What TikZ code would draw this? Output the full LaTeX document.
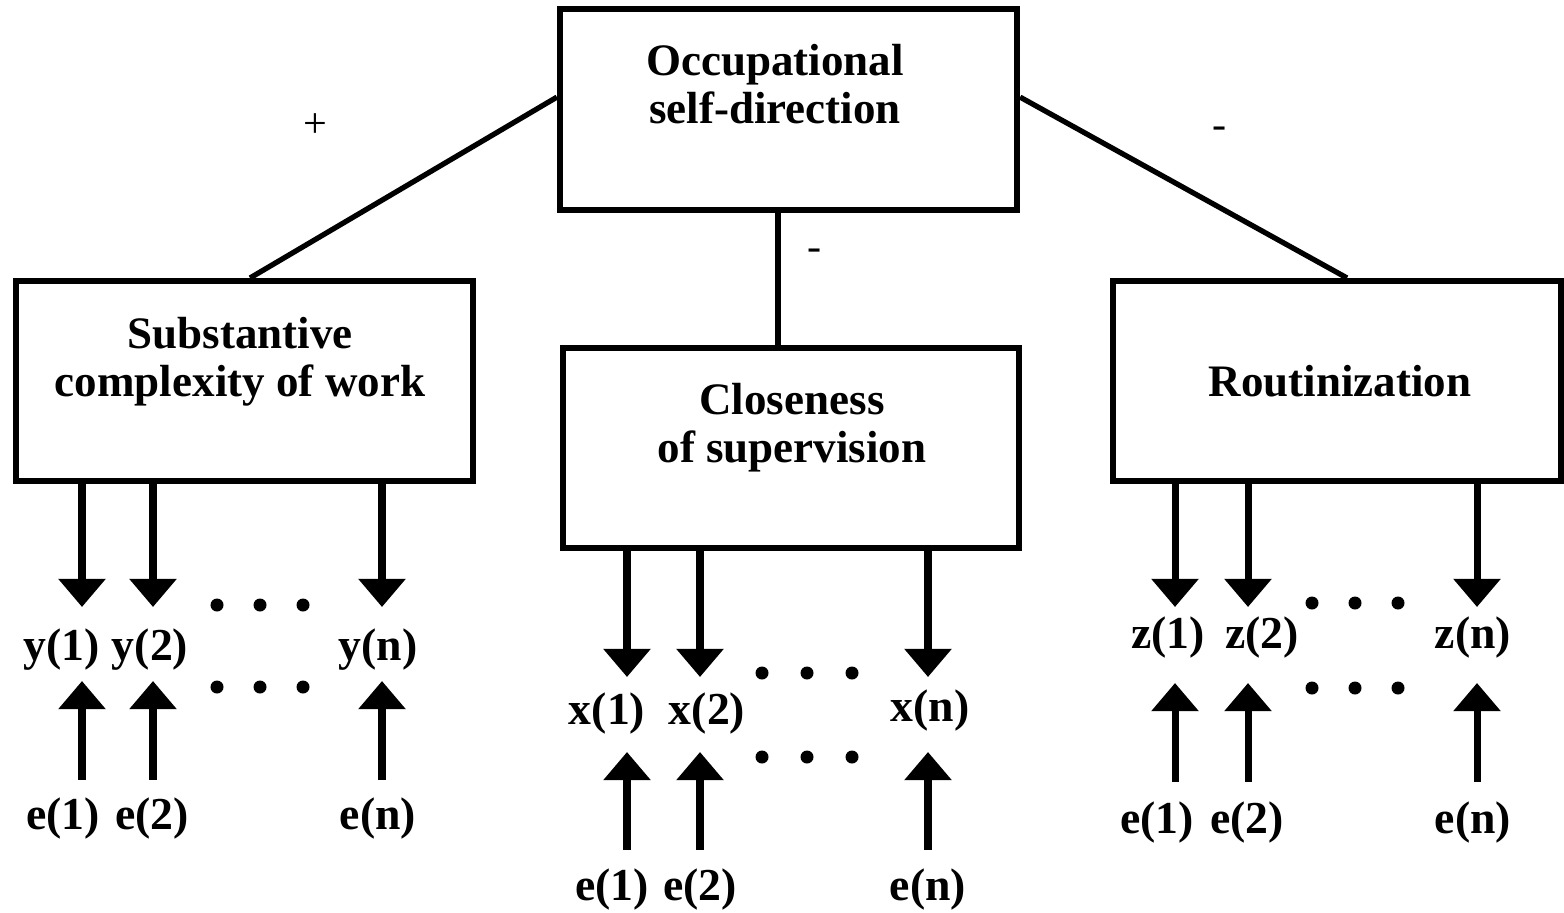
\documentclass[tikz,border=0pt]{standalone}
\usepackage{fontspec}
\setmainfont{Liberation Serif}
\usetikzlibrary{arrows.meta,calc}
\begin{document}
\begin{tikzpicture}[x=0.01cm,y=-0.01cm,
  box/.style={draw,line width=1.7pt,inner sep=0pt,minimum width=4.57cm,minimum height=2cm},
  boxtext/.style={inner sep=0pt,align=center,font=\fontsize{12.8}{13.7}\selectfont\bfseries},
  lab/.style={inner sep=0pt,font=\fontsize{13}{14}\selectfont\bfseries},
  sign/.style={inner sep=0pt,font=\fontsize{12}{14}\selectfont},
  link/.style={line width=1.5pt},
  darr/.style={line width=2pt,-{Triangle[width=13pt,length=8pt]}},
  dotc/.style={fill=black}
]
\useasboundingbox (0,0) rectangle (1564,912);

% boxes
\node[box] (top) at (788.5,109.5) {};
\node[box] (lbox) at (244.5,381) {};
\node[box,minimum width=4.56cm] (mbox) at (791,448) {};
\node[box,minimum width=4.48cm] (rbox) at (1337,381) {};

\node[boxtext] (ttop) at (775,84) {Occupational\\self-direction};
\node[boxtext] (tl) at (240,362) {Substantive\\complexity of work};
\node[boxtext] (tm) at (792,428) {Closeness\\of supervision};
\node[boxtext] (tr) at (1340,381) {Routinization};

% links
\draw[link] ($(top.north west)!0.44!(top.south west)$) -- ($(lbox.north west)!0.512!(lbox.north east)$);
\draw[link] ($(top.north east)!0.44!(top.south east)$) -- ($(rbox.north west)!0.522!(rbox.north east)$);
\draw[link,line width=1.7pt] ($(top.south west)!0.477!(top.south east)$) coordinate (mtop) -- (mtop |- mbox.north);

\node[sign] (plus) at (315,126) {+};
\node[sign] (minr) at (1220,133) {-};
\node[sign] (minm) at (815,255) {-};

% left group
\node[lab] (y1) at (62,650) {y(1)};
\node[lab] (y2) at (150,650) {y(2)};
\node[lab] (yn) at (378,650) {y(n)};
\node[lab] (le1) at (63,818) {e(1)};
\node[lab] (le2) at (152,818) {e(2)};
\node[lab] (len) at (378,818) {e(n)};
\foreach \n/\x in {1/82,2/153,n/382}{
  \coordinate (ld\n) at (\x,607);
  \coordinate (lu\n) at (\x,681);
  \coordinate (lb\n) at (\x,780);
  \draw[darr] (lbox.south -| ld\n) -- (ld\n);
  \draw[darr] (lb\n) -- (lu\n);
}
\foreach \x in {217,260,303}{
  \fill[dotc] (\x,605) circle (0.065cm);
  \fill[dotc] (\x,687) circle (0.065cm);
}

% middle group
\node[lab] (x1) at (607,713) {x(1)};
\node[lab] (x2) at (707,713) {x(2)};
\node[lab] (xn) at (930,710) {x(n)};
\node[lab] (me1) at (612,889) {e(1)};
\node[lab] (me2) at (700,889) {e(2)};
\node[lab] (men) at (928,889) {e(n)};
\foreach \n/\x in {1/627,2/700,n/928}{
  \coordinate (md\n) at (\x,677);
  \coordinate (mu\n) at (\x,752);
  \coordinate (mb\n) at (\x,850);
  \draw[darr] (mbox.south -| md\n) -- (md\n);
  \draw[darr] (mb\n) -- (mu\n);
}
\foreach \x in {762,807,852}{
  \fill[dotc] (\x,673) circle (0.065cm);
  \fill[dotc] (\x,757) circle (0.065cm);
}

% right group
\node[lab] (z1) at (1168,637) {z(1)};
\node[lab] (z2) at (1262,637) {z(2)};
\node[lab] (zn) at (1473,637) {z(n)};
\node[lab] (re1) at (1157,822) {e(1)};
\node[lab] (re2) at (1247,822) {e(2)};
\node[lab] (ren) at (1473,822) {e(n)};
\foreach \n/\x in {1/1175,2/1248,n/1477}{
  \coordinate (rd\n) at (\x,607);
  \coordinate (ru\n) at (\x,683);
  \coordinate (rb\n) at (\x,782);
  \draw[darr] (rbox.south -| rd\n) -- (rd\n);
  \draw[darr] (rb\n) -- (ru\n);
}
\foreach \x in {1312,1355,1398}{
  \fill[dotc] (\x,603) circle (0.065cm);
  \fill[dotc] (\x,688) circle (0.065cm);
}
\end{tikzpicture}
\end{document}
